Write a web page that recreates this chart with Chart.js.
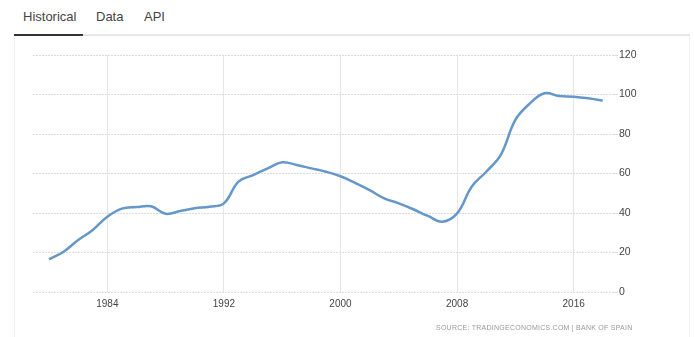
<!DOCTYPE html>
<html>
<head>
<meta charset="utf-8">
<script src="https://cdn.jsdelivr.net/npm/chart.js@4/dist/chart.umd.min.js"></script>
<style>
  html, body { margin: 0; padding: 0; background: #fff; }
  body { width: 694px; height: 337px; position: relative; overflow: hidden; font-family: "Liberation Sans", Arial, sans-serif; }
  .tabs { position: absolute; left: 14px; top: 0; width: 676px; height: 36px; border-bottom: 2px solid #e8e8e8; box-sizing: border-box; }
  .tab { position: absolute; top: 9px; font-size: 13px; color: #444; }
  .tab.active-bar { position: absolute; left: 0; bottom: -2px; width: 69px; height: 2px; background: #333; top: auto; }
  .panel { position: absolute; left: 14px; top: 36px; width: 676px; height: 301px; border-left: 1px solid #f0f0f0; border-right: 1px solid #f0f0f0; box-sizing: border-box; }
  #wrap { position: absolute; left: 0; top: 0; width: 694px; height: 337px; }
  .source { position: absolute; left: 436px; top: 324px; font-size: 7px; letter-spacing: 0.25px; color: #999; white-space: nowrap; }
</style>
</head>
<body>
<div class="tabs">
  <span class="tab" style="left:9px">Historical</span>
  <span class="tab" style="left:82px">Data</span>
  <span class="tab" style="left:130px">API</span>
  <div class="tab active-bar"></div>
</div>
<div class="panel"></div>
<div id="wrap"><canvas id="chart"></canvas></div>
<div class="source">SOURCE: TRADINGECONOMICS.COM | BANK OF SPAIN</div>
<script>
  var years = [1980, 1981, 1982, 1983, 1984, 1985, 1986, 1987, 1988, 1989,
    1990, 1991, 1992, 1993, 1994, 1995, 1996, 1997, 1998, 1999,
    2000, 2001, 2002, 2003, 2004, 2005, 2006, 2007, 2008, 2009,
    2010, 2011, 2012, 2013, 2014, 2015, 2016, 2017, 2018];
  var debtToGdp = [16.5, 20.4, 26.3, 31.4, 38.1, 42.2, 43.0, 43.4, 39.6, 41.0,
    42.4, 43.2, 44.9, 55.9, 59.2, 62.6, 65.7, 64.3, 62.6, 60.9,
    58.6, 55.3, 51.6, 47.4, 44.9, 41.9, 38.5, 35.6, 39.8, 53.3,
    60.9, 69.4, 87.1, 95.5, 100.6, 99.2, 98.9, 98.1, 96.9];
  var yearTicks = [1984, 1992, 2000, 2008, 2016];
  var valueTicks = [0, 20, 40, 60, 80, 100, 120];

  var points = years.map(function (y, i) {
    return { x: y, y: debtToGdp[i] };
  });

  new Chart(document.getElementById('chart'), {
    type: 'line',
    data: {
      datasets: [
        {
          data: points,
          borderColor: '#6597c8',
          borderWidth: 2.5,
          pointRadius: 0,
          tension: 0.4,
          fill: false,
        },
      ],
    },
    options: {
      responsive: true,
      maintainAspectRatio: false,
      animation: false,
      layout: { padding: { left: 33, top: 55, right: 0, bottom: 0 } },
      plugins: { legend: { display: false }, tooltip: { enabled: false } },
      scales: {
        x: {
          type: 'linear',
          min: 1978.9,
          max: 2018.7,
          afterBuildTicks: function (axis) {
            axis.ticks = yearTicks.map(function (v) { return { value: v }; });
          },
          afterFit: function (axis) { axis.height = 45; },
          grid: { color: '#e6e6e6', drawTicks: false },
          border: { display: false },
          ticks: {
            padding: 6,
            color: '#444',
            font: { family: 'Liberation Sans', size: 10 },
            callback: function (v) { return String(v); },
          },
        },
        y: {
          position: 'right',
          min: 0,
          max: 120,
          afterBuildTicks: function (axis) {
            axis.ticks = valueTicks.map(function (v) { return { value: v }; });
          },
          afterFit: function (axis) { axis.width = 81; },
          grid: { color: '#dddddd', tickLength: 5 },
          border: { display: false, dash: [2, 1] },
          ticks: {
            padding: 1,
            crossAlign: 'near',
            color: '#444',
            font: { family: 'Liberation Sans', size: 10.5 },
          },
        },
      },
    },
  });
</script>
</body>
</html>
